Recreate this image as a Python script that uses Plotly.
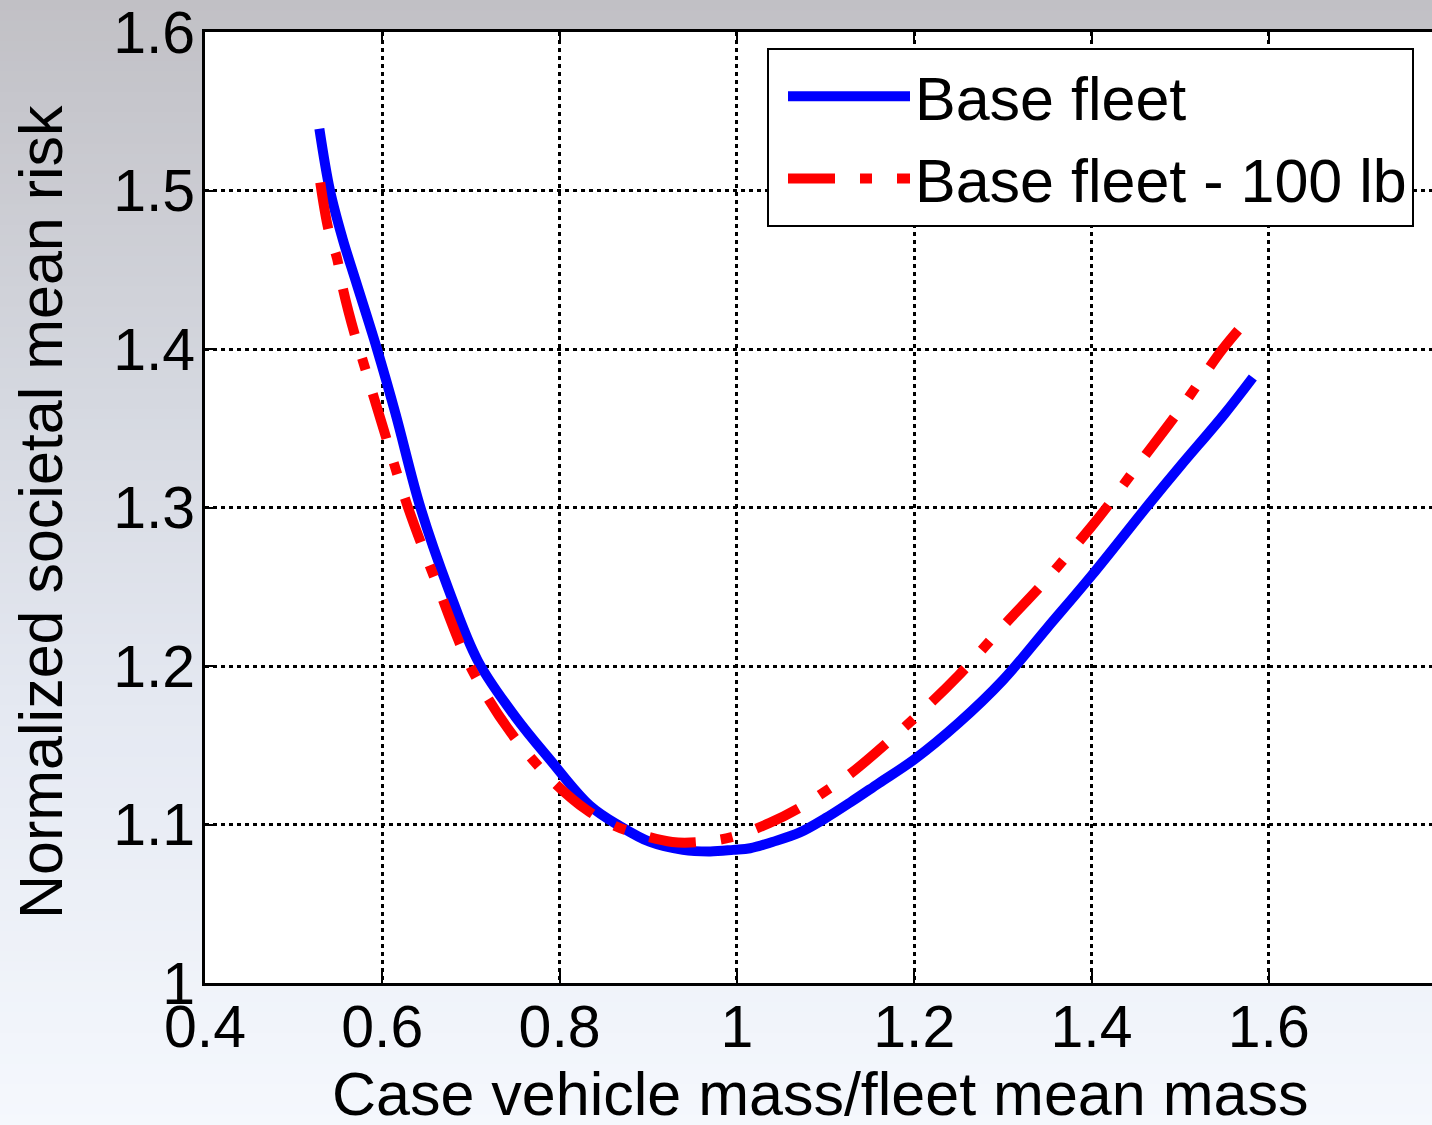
import plotly.graph_objects as go

# ---- data ----
base_x = [0.529, 0.541, 0.555, 0.570, 0.594, 0.615, 0.643, 0.675, 0.708, 0.750,
          0.789, 0.834, 0.868, 0.902, 0.939, 0.970, 0.996, 1.015, 1.040, 1.071,
          1.100, 1.128, 1.160, 1.200, 1.250, 1.300, 1.350, 1.400, 1.466, 1.500,
          1.550, 1.582]
base_y = [1.539, 1.500, 1.470, 1.443, 1.400, 1.359, 1.300, 1.248, 1.203, 1.168,
          1.141, 1.112, 1.099, 1.089, 1.084, 1.083, 1.084, 1.085, 1.089, 1.095,
          1.104, 1.114, 1.126, 1.141, 1.164, 1.191, 1.224, 1.257, 1.303, 1.326,
          1.359, 1.382]

minus_x = [0.530, 0.539, 0.549, 0.556, 0.569, 0.574, 0.600, 0.629, 0.660, 0.699,
           0.745, 0.793, 0.831, 0.859, 0.877, 0.927, 0.958, 0.994, 1.037, 1.069,
           1.097, 1.128, 1.200, 1.250, 1.300, 1.350, 1.400, 1.417, 1.450, 1.500,
           1.548, 1.575]
minus_y = [1.505, 1.476, 1.457, 1.437, 1.409, 1.400, 1.352, 1.300, 1.254, 1.200,
           1.158, 1.127, 1.109, 1.100, 1.096, 1.089, 1.089, 1.092, 1.101, 1.110,
           1.120, 1.132, 1.167, 1.194, 1.225, 1.255, 1.288, 1.300, 1.325, 1.362,
           1.400, 1.418]

series_names = ["Base fleet", "Base fleet - 100 lb"]
x_ticks = [0.4, 0.6, 0.8, 1.0, 1.2, 1.4, 1.6]
x_tick_labels = ["0.4", "0.6", "0.8", "1", "1.2", "1.4", "1.6"]
y_ticks = [1.0, 1.1, 1.2, 1.3, 1.4, 1.5, 1.6]
y_tick_labels = ["1", "1.1", "1.2", "1.3", "1.4", "1.5", "1.6"]
x_title = "Case vehicle mass/fleet mean mass"
y_title = "Normalized societal mean risk"

# ---- layout geometry ----
W, H = 1432, 1125
ML, MR, MT, MB = 205, 0, 32, 142
FONT = "Liberation Sans, Arial, sans-serif"
pw = W - ML - MR
ph = H - MT - MB


def px_to_paper_x(px):
    return (px - ML) / pw


def py_to_paper_y(py):
    return (H - MB - py) / ph


fig = go.Figure()
fig.add_trace(go.Scatter(x=base_x, y=base_y, mode="lines", name=series_names[0],
                         line=dict(color="#0000ff", width=10, shape="spline", smoothing=1.0)))
fig.add_trace(go.Scatter(x=minus_x, y=minus_y, mode="lines", name=series_names[1],
                         line=dict(color="#ff0000", width=10, shape="spline", smoothing=1.0,
                                   dash="47px,25px,12px,25px")))

# background gradient (figure), plot area white on top
stops = [(0, (193, 192, 197)), (415, (214, 217, 225)), (715, (229, 233, 242)), (1125, (245, 248, 253))]


def col_at(py):
    for (p0, c0), (p1, c1) in zip(stops[:-1], stops[1:]):
        if p0 <= py <= p1:
            t = (py - p0) / (p1 - p0)
            return "rgb(%d,%d,%d)" % tuple(round(a + (b - a) * t) for a, b in zip(c0, c1))
    return "rgb(%d,%d,%d)" % stops[-1][1]


shapes = []
n = 110
for i in range(n):
    y0 = H * i / n
    y1 = H * (i + 1) / n + 1
    shapes.append(dict(type="rect", xref="paper", yref="paper", layer="below",
                       x0=-ML / pw - 0.01, x1=1.02,
                       y0=py_to_paper_y(y1), y1=py_to_paper_y(y0),
                       fillcolor=col_at((y0 + y1) / 2), line=dict(width=0)))
shapes.append(dict(type="rect", xref="paper", yref="paper", layer="below",
                   x0=0, x1=1.02, y0=0, y1=1, fillcolor="white", line=dict(width=0)))

annotations = [
    dict(text=x_title, xref="paper", yref="paper", x=px_to_paper_x(820), y=py_to_paper_y(1094),
         xanchor="center", yanchor="middle", showarrow=False,
         font=dict(family=FONT, size=61, color="black")),
    dict(text=y_title, xref="paper", yref="paper", x=px_to_paper_x(41), y=py_to_paper_y(512),
         xanchor="center", yanchor="middle", showarrow=False, textangle=-90,
         font=dict(family=FONT, size=61, color="black")),
]

fig.update_layout(
    width=W, height=H,
    margin=dict(l=ML, r=MR, t=MT, b=MB, pad=0),
    paper_bgcolor="rgb(220,223,230)",
    plot_bgcolor="white",
    font=dict(family=FONT, size=59, color="black"),
    shapes=shapes,
    annotations=annotations,
    showlegend=True,
    legend=dict(x=px_to_paper_x(767), y=py_to_paper_y(48), xanchor="left", yanchor="top",
                bgcolor="white", bordercolor="black", borderwidth=2,
                font=dict(family=FONT, size=61, color="black"),
                itemwidth=122, indentation=14, tracegroupgap=0),
    xaxis=dict(range=[0.4, 0.4 + pw / 886.5], tickvals=x_ticks, ticktext=x_tick_labels,
               showline=True, linecolor="black", linewidth=3, mirror="allticks",
               ticks="inside", ticklen=12, tickwidth=2, tickcolor="black",
               ticklabelstandoff=-10, ticklabeloverflow="allow",
               showgrid=True, gridcolor="black", gridwidth=2.5, griddash="4px,4px",
               zeroline=False, automargin=False),
    yaxis=dict(range=[1.0, 1.6], tickvals=y_ticks, ticktext=y_tick_labels,
               showline=True, linecolor="black", linewidth=3, mirror=False,
               ticks="inside", ticklen=12, tickwidth=2, tickcolor="black",
               ticklabelstandoff=-5, ticklabeloverflow="allow",
               showgrid=True, gridcolor="black", gridwidth=2.5, griddash="4px,4px",
               zeroline=False, automargin=False),
)

fig.write_html("out.html")
